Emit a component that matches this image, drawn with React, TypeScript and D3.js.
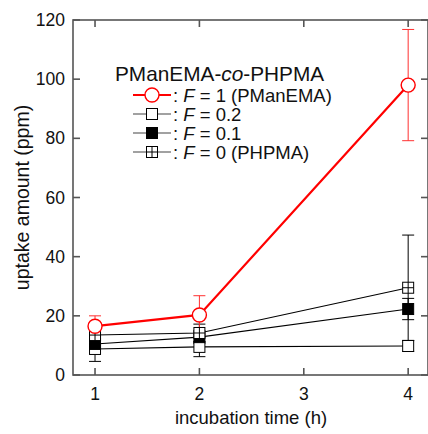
import React from 'react';
import * as d3 from 'd3';

// incubation time (h)
const times = [1, 2, 4];

// uptake amount (ppm) per composition, with error bar half-widths
const f1Values = [16.5, 20.3, 98];
const f1Errors = [3.5, 6.5, 18.8];
const f02Values = [8.8, 9.5, 9.8];
const f02Errors = [4.2, 3.3, 1.8];
const f01Values = [10.5, 12.8, 22.3];
const f01Errors = [2, 2.2, 3.6];
const f0Values = [13.5, 14.2, 29.5];
const f0Errors = [2, 3, 17.8];

const yTicks = [0, 20, 40, 60, 80, 100, 120];
const xTicks = [1, 2, 3, 4];

const series = [
  { key: 'f02', values: f02Values, errors: f02Errors, marker: 'open', color: '#000', label: '0.2', extra: '' },
  { key: 'f01', values: f01Values, errors: f01Errors, marker: 'filled', color: '#000', label: '0.1', extra: '' },
  { key: 'f0', values: f0Values, errors: f0Errors, marker: 'cross', color: '#000', label: '0', extra: ' (PHPMA)' },
  { key: 'f1', values: f1Values, errors: f1Errors, marker: 'circle', color: '#ff0000', label: '1', extra: ' (PManEMA)' },
];
const legendOrder = ['f1', 'f02', 'f01', 'f0'];

const W = 428;
const H = 434;
const left = 73;
const right = 428;
const top = 20;
const bottom = 375;
const font = 'Liberation Sans, Arial, sans-serif';
const axisColor = '#555';

function Marker({ type, x, y, color }: { type: string; x: number; y: number; color: string }) {
  const s = 11;
  if (type === 'circle') {
    return <circle cx={x} cy={y} r={7} fill="#fff" stroke={color} strokeWidth={1.4} />;
  }
  const rect = (
    <rect x={x - s / 2} y={y - s / 2} width={s} height={s}
      fill={type === 'filled' ? '#000' : '#fff'} stroke="#000" strokeWidth={1} />
  );
  if (type === 'cross') {
    return (
      <g>
        {rect}
        <line x1={x} x2={x} y1={y - s / 2} y2={y + s / 2} stroke="#000" strokeWidth={1} />
        <line x1={x - s / 2} x2={x + s / 2} y1={y} y2={y} stroke="#000" strokeWidth={1} />
      </g>
    );
  }
  return rect;
}

export default function App() {
  const x = d3.scaleLinear().domain([0.789, 4.19]).range([left, right]);
  const y = d3.scaleLinear().domain([0, 120]).range([bottom, top]);

  const line = d3.line<number>()
    .x((_, i) => x(times[i]))
    .y(d => y(d));

  const tick = 7;
  const cap = 6;

  return (
    <svg width={W} height={H} style={{ position: 'absolute', left: 0, top: 0 }} fontFamily={font}>
      <rect width={W} height={H} fill="#fff" />

      {/* error bars */}
      {series.map(s => (
        <g key={'err-' + s.key} stroke={s.key === 'f1' ? '#ff3030' : '#000'} strokeWidth={1}>
          {s.values.map((v, i) => {
            const cx = x(times[i]);
            const y0 = y(v - s.errors[i]);
            const y1 = y(v + s.errors[i]);
            return (
              <g key={i}>
                <line x1={cx} x2={cx} y1={y0} y2={y1} />
                <line x1={cx - cap} x2={cx + cap} y1={y0} y2={y0} />
                <line x1={cx - cap} x2={cx + cap} y1={y1} y2={y1} />
              </g>
            );
          })}
        </g>
      ))}

      {/* lines */}
      {series.map(s => (
        <path key={'line-' + s.key} d={line(s.values) || ''} fill="none" stroke={s.color}
          strokeWidth={s.key === 'f1' ? 2.2 : 1.1} />
      ))}

      {/* markers */}
      {series.map(s => (
        <g key={'mk-' + s.key}>
          {s.values.map((v, i) => (
            <Marker key={i} type={s.marker} x={x(times[i])} y={y(v)} color={s.color} />
          ))}
        </g>
      ))}

      {/* frame and ticks */}
      <g stroke={axisColor} strokeWidth={1.6} fill="none">
        <rect x={left} y={top} width={right - left} height={bottom - top} />
        {yTicks.map(t => (
          <g key={'yt' + t}>
            <line x1={left} x2={left + tick} y1={y(t)} y2={y(t)} />
            <line x1={right - tick} x2={right} y1={y(t)} y2={y(t)} />
          </g>
        ))}
        {xTicks.map(t => (
          <g key={'xt' + t}>
            <line x1={x(t)} x2={x(t)} y1={bottom} y2={bottom - tick} />
            <line x1={x(t)} x2={x(t)} y1={top} y2={top + tick} />
          </g>
        ))}
      </g>

      {/* tick labels */}
      <g fontSize={17.5} fill="#111">
        {yTicks.map(t => (
          <text key={'yl' + t} x={left - 8} y={y(t)} dy="0.35em" textAnchor="end">{t}</text>
        ))}
        {xTicks.map(t => (
          <text key={'xl' + t} x={x(t)} y={bottom + 25} textAnchor="middle">{t}</text>
        ))}
      </g>

      {/* axis titles */}
      <text x={251} y={424} textAnchor="middle" fontSize={18.5} fill="#111">
        incubation time (h)
      </text>
      <text transform={`translate(29,${(top + bottom) / 2}) rotate(-90)`} textAnchor="middle"
        fontSize={19.5} fill="#111">
        uptake amount (ppm)
      </text>

      {/* legend */}
      <g fill="#111">
        <text x={115} y={81} fontSize={20.8}>PManEMA-<tspan fontStyle="italic">co</tspan>-PHPMA</text>
        {legendOrder.map((k, i) => {
          const s = series.find(d => d.key === k)!;
          const ly = 95 + i * 19;
          return (
            <g key={'lg' + k}>
              <line x1={133} x2={171} y1={ly} y2={ly} stroke={s.key === 'f1' ? s.color : '#444'}
                strokeWidth={s.key === 'f1' ? 2.2 : 1.1} />
              <Marker type={s.marker} x={152} y={ly} color={s.color} />
              <text x={173} y={ly} dy="0.36em" fontSize={18.5}>
                : <tspan fontStyle="italic">F</tspan> = {s.label}{s.extra}
              </text>
            </g>
          );
        })}
      </g>
    </svg>
  );
}
